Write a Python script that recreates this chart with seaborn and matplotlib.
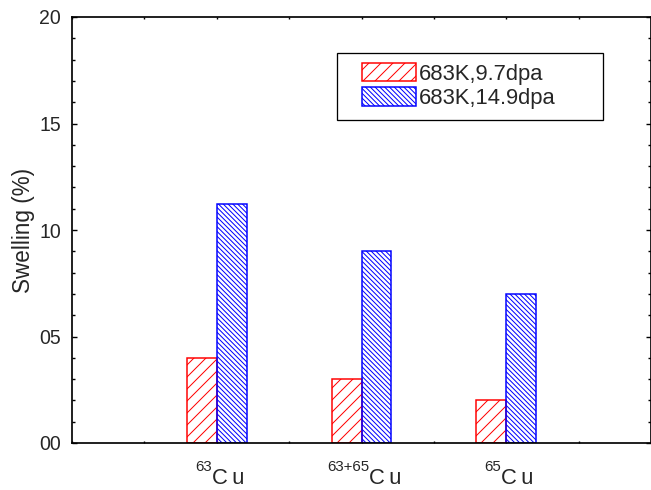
import matplotlib
matplotlib.use("Agg")
import matplotlib.pyplot as plt
from matplotlib.patches import Patch, Rectangle
from matplotlib.ticker import MultipleLocator, FormatStrFormatter
import pandas as pd
import seaborn as sns

# swelling (%)
samples = ["63Cu", "63+65Cu", "65Cu"]
isotopes = ["63", "63+65", "65"]
element = "C\u2009u"
conditions = ["683K,9.7dpa", "683K,14.9dpa"]
swelling_97dpa = [4.0, 3.0, 2.0]
swelling_149dpa = [11.2, 9.0, 7.0]

RED = "#ff0000"
BLUE = "#0000ff"
# drawn at 72 dpi so 1 pt == 1 px (keeps the hatch spacing close to the original)
DPI = 72
RED_HATCH = "//"
BLUE_HATCH = "\\" * 5


def make_frame():
    rows = []
    for s, v in zip(samples, swelling_97dpa):
        rows.append((s, conditions[0], v))
    for s, v in zip(samples, swelling_149dpa):
        rows.append((s, conditions[1], v))
    return pd.DataFrame(rows, columns=["sample", "condition", "swelling"])


def plot():
    df = make_frame()

    sns.set_style("ticks")
    plt.rcParams["font.family"] = ["Liberation Sans", "DejaVu Sans"]
    plt.rcParams["hatch.linewidth"] = 1.0

    fig = plt.figure(figsize=(651 / DPI, 490 / DPI), dpi=DPI)
    ax = fig.add_axes([72 / 651, 47 / 490, 579 / 651, 426 / 490])

    sns.barplot(data=df, x="sample", y="swelling", hue="condition",
                palette=[RED, BLUE], fill=False, width=0.414, gap=0,
                errorbar=None, legend=False, linewidth=1.5, ax=ax)

    for cont, h in zip(ax.containers, [RED_HATCH, BLUE_HATCH]):
        for bar in cont:
            bar.set_hatch(h)

    ax.set_xlim(-1, 3)
    ax.set_ylim(0, 20)
    ax.set_xticks(range(len(samples)))
    ax.set_xticklabels([])
    ax.xaxis.set_minor_locator(MultipleLocator(0.5))
    ax.yaxis.set_major_locator(MultipleLocator(5))
    ax.yaxis.set_minor_locator(MultipleLocator(1))
    ax.yaxis.set_major_formatter(FormatStrFormatter("%02d"))

    ax.tick_params(axis="y", which="both", direction="in", left=True, right=True,
                   labelsize=19.5, pad=11, color="black")
    ax.tick_params(axis="y", which="major", length=5, width=1.4)
    ax.tick_params(axis="y", which="minor", length=3, width=1.4)
    ax.tick_params(axis="x", which="both", direction="in", bottom=True, top=True,
                   length=2, width=1.4, color="black")

    for sp in ax.spines.values():
        sp.set_visible(True)
        sp.set_color("black")
        sp.set_linewidth(1.7)

    ax.set_xlabel("")
    ax.set_ylabel("Swelling (%)", fontsize=22.5, labelpad=4)

    # isotope labels: small superscript number in front of "Cu", centred under each group
    renderer = fig.canvas.get_renderer()
    trans = ax.get_xaxis_transform()
    for i, iso in enumerate(isotopes):
        t_sup = ax.annotate(iso, xy=(i, 0), xycoords=trans, xytext=(0, 0),
                            textcoords="offset pixels", fontsize=15,
                            ha="left", va="baseline", annotation_clip=False)
        t_el = ax.annotate(element, xy=(i, 0), xycoords=trans, xytext=(0, 0),
                           textcoords="offset pixels", fontsize=22,
                           ha="left", va="baseline", annotation_clip=False)
        w_sup = t_sup.get_window_extent(renderer).width
        w_el = t_el.get_window_extent(renderer).width
        left = -(w_sup + w_el) / 2 + 3
        t_sup.xyann = (left, -28)
        t_el.xyann = (left + w_sup, -41)

    handles = [Patch(facecolor="none", edgecolor=RED, hatch=RED_HATCH, linewidth=1.5,
                     label=conditions[0]),
               Patch(facecolor="none", edgecolor=BLUE, hatch=BLUE_HATCH, linewidth=1.5,
                     label=conditions[1])]
    ax.legend(handles=handles, loc="upper left", bbox_to_anchor=(0.5017, 0.8920),
              borderaxespad=0, borderpad=0, frameon=False, fontsize=22,
              handlelength=2.45, handleheight=0.9, labelspacing=0.12,
              handletextpad=0.1)
    ax.add_patch(Rectangle((0.4569, 0.7582), 0.4603, 0.1573, transform=ax.transAxes,
                           fill=False, edgecolor="black", linewidth=1.3, zorder=5))

    fig.savefig("out.png", dpi=DPI)


if __name__ == "__main__":
    plot()
